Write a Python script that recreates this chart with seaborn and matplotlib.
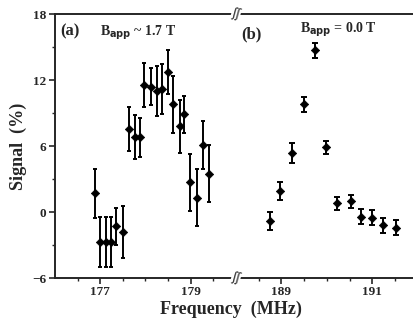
import matplotlib
matplotlib.use("Agg")
import matplotlib.pyplot as plt
import seaborn as sns
import pandas as pd

# panel (a): B_app ~ 1.7 T
freq_a = [176.89, 177.0, 177.14, 177.25, 177.36, 177.5, 177.64, 177.76, 177.88, 177.98, 178.12,
          178.25, 178.36, 178.5, 178.62, 178.76, 178.85, 178.99, 179.15, 179.27, 179.4]
sig_a = [1.7, -2.7, -2.7, -2.7, -1.3, -1.8, 7.6, 6.8, 6.8, 11.6, 11.4,
         11.0, 11.2, 12.7, 9.8, 7.8, 8.9, 2.7, 1.3, 6.1, 3.5]
err_a = [2.2, 2.3, 2.3, 2.3, 1.7, 2.4, 2.0, 2.0, 1.8, 2.0, 1.7,
         2.3, 2.3, 2.0, 2.6, 2.4, 1.7, 2.6, 2.6, 2.2, 2.6]

# panel (b): B_app = 0.0 T
freq_b = [188.75, 188.98, 189.24, 189.49, 189.73, 189.98, 190.23, 190.53, 190.75, 190.99, 191.24, 191.53]
sig_b = [-0.8, 1.9, 5.4, 9.8, 14.7, 5.9, 0.8, 1.0, -0.4, -0.5, -1.2, -1.4]
err_b = [0.8, 0.8, 0.9, 0.7, 0.7, 0.6, 0.6, 0.6, 0.7, 0.7, 0.7, 0.7]

yticks = [-6, 0, 6, 12, 18]

sns.set_style("ticks")
plt.rcParams['font.family'] = ['Liberation Serif', 'DejaVu Serif']
plt.rcParams['font.weight'] = 'bold'

fig = plt.figure(figsize=(4.13, 3.28), dpi=100)
ax1 = fig.add_axes([0.133, 0.152, 0.438, 0.805])
ax2 = fig.add_axes([0.571, 0.152, 0.435, 0.805], sharey=ax1)

df_a = pd.DataFrame({'f': freq_a, 's': sig_a, 'e': err_a})
df_b = pd.DataFrame({'f': freq_b, 's': sig_b, 'e': err_b})

for ax, df, cap in [(ax1, df_a, 1.5), (ax2, df_b, 2.5)]:
    ax.errorbar(df['f'], df['s'], yerr=df['e'], fmt='none', ecolor='black',
                elinewidth=1.4, capsize=cap, capthick=1.4)
    sns.scatterplot(data=df, x='f', y='s', ax=ax, marker='D', s=18,
                    color='black', edgecolor='black', linewidth=0.5, legend=False)
    ax.set_xlabel('')
    ax.set_ylabel('')
    ax.tick_params(direction='out', length=4, width=1.2, labelsize=9.5, pad=2)
    ax.tick_params(which='minor', direction='out', length=2.5, width=1)
    for sp in ax.spines.values():
        sp.set_linewidth(1.4)

ax1.set_xlim(176, 180)
ax2.set_xlim(188, 191.95)
ax1.set_ylim(-6, 18)
ax1.set_yticks(yticks)
ax1.set_yticks([-3, 3, 9, 15], minor=True)
ax1.set_xticks([177, 179])
ax1.set_xticks([176.5, 177.5, 178, 178.5, 179.5], minor=True)
ax2.set_xticks([189, 191])
ax2.set_xticks([188.5, 189.5, 190, 190.5, 191.5], minor=True)

ax1.spines['right'].set_visible(False)
ax2.spines['left'].set_visible(False)
ax2.spines['right'].set_visible(False)
ax2.tick_params(axis='y', which='both', left=False, labelleft=False)

ax1.set_ylabel('Signal  (%)', fontsize=13, fontweight='bold', labelpad=4)
fig.text(0.56, 0.03, 'Frequency  (MHz)', ha='center', va='bottom', fontsize=13, fontweight='bold')

ax1.text(0.03, 0.965, '(a)', transform=ax1.transAxes, fontsize=12, fontweight='bold', va='top')
ax1.text(0.25, 0.965, r'B$_{\mathbf{app}}$ ~ 1.7 T', transform=ax1.transAxes,
         fontsize=10, fontweight='bold', va='top')
ax2.text(0.03, 0.955, '(b)', transform=ax2.transAxes, fontsize=12, fontweight='bold', va='top')
ax2.text(0.36, 0.975, r'B$_{\mathbf{app}}$ = 0.0 T', transform=ax2.transAxes,
         fontsize=10, fontweight='bold', va='top')

# break marks
for yb in [0.957, 0.152]:
    fig.text(0.571, yb, 'ʃʃ', ha='center', va='center', fontsize=9,
             family=['DejaVu Sans'], fontweight='normal', rotation=-15,
             bbox=dict(facecolor='white', edgecolor='none', pad=0.3))

fig.savefig('out.png', dpi=100)
